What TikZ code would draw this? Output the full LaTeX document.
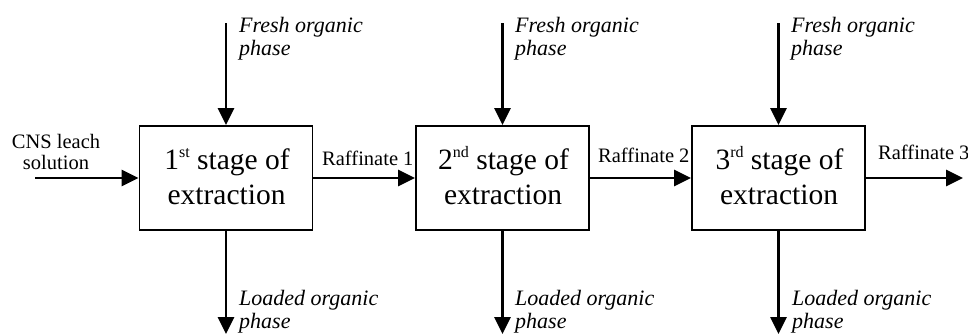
\documentclass[tikz,border=0pt]{standalone}
\usepackage{fontspec}
\setmainfont{Liberation Serif}
\usetikzlibrary{arrows.meta}
\newcommand\supx[1]{\raisebox{12pt}{\fontsize{16}{16}\selectfont #1}}
\tikzset{
  stagebox/.style={draw, line width=1.8pt, minimum width=173pt, minimum height=104pt, inner sep=0pt},
  flowarrow/.style={line width=2.7pt, -{Triangle[length=17pt,width=16pt]}},
  smalltxt/.style={font=\fontsize{20.5}{23}\selectfont, inner sep=0pt},
  smallit/.style={font=\fontsize{22}{23}\selectfont\itshape, inner sep=0pt, anchor=base west},
  boxtxt/.style={font=\fontsize{29.5}{34}\selectfont, inner sep=0pt, anchor=base},
}
\begin{document}
\begin{tikzpicture}[x=1pt,y=-1pt]
\useasboundingbox (0,0) rectangle (968,335);
% boxes
\node[stagebox] (b1) at (226,178) {};
\node[stagebox] (b2) at (502.5,178) {};
\node[stagebox] (b3) at (778.5,178) {};
% box texts
\node[boxtxt] (t1a) at (227,169) {1\supx{st} stage of};
\node[boxtxt] (t1b) at (226.5,204) {extraction};
\node[boxtxt] (t2a) at (503.5,169) {2\supx{nd} stage of};
\node[boxtxt] (t2b) at (503,204) {extraction};
\node[boxtxt] (t3a) at (779.5,169) {3\supx{rd} stage of};
\node[boxtxt] (t3b) at (779,204) {extraction};
% coordinates for free ends
\coordinate (in) at (35,178);
\coordinate (out) at (963,178);
\coordinate (f1) at (226,23);
\coordinate (f2) at (502.5,23);
\coordinate (f3) at (778.5,23);
\coordinate (l1) at (226,334);
\coordinate (l2) at (502.5,334);
\coordinate (l3) at (778.5,334);
% arrows
\draw[flowarrow] (in) -- (b1.west);
\draw[flowarrow] (b1.east) -- (b2.west);
\draw[flowarrow] (b2.east) -- (b3.west);
\draw[flowarrow] (b3.east) -- (out);
\draw[flowarrow] (f1) -- (b1.north);
\draw[flowarrow] (f2) -- (b2.north);
\draw[flowarrow] (f3) -- (b3.north);
\draw[flowarrow] (b1.south) -- (l1);
\draw[flowarrow] (b2.south) -- (l2);
\draw[flowarrow] (b3.south) -- (l3);
% labels
\node[smalltxt, anchor=base] (cns1) at (56,148) {CNS leach};
\node[smalltxt, anchor=base] (cns2) at (56,169) {solution};
\node[smalltxt, anchor=base west] (r1) at (322,165) {Raffinate 1};
\node[smalltxt, anchor=base west] (r2) at (598,162) {Raffinate 2};
\node[smalltxt, anchor=base west] (r3) at (878,159) {Raffinate 3};
\node[smallit] (fa1) at (239,32) {Fresh organic};
\node[smallit] (fb1) at (239,55) {phase};
\node[smallit] (fa2) at (515,32) {Fresh organic};
\node[smallit] (fb2) at (515,55) {phase};
\node[smallit] (fa3) at (791,32) {Fresh organic};
\node[smallit] (fb3) at (791,55) {phase};
\node[smallit] (la1) at (239,305) {Loaded organic};
\node[smallit] (lb1) at (239,328) {phase};
\node[smallit] (la2) at (515,305) {Loaded organic};
\node[smallit] (lb2) at (515,328) {phase};
\node[smallit] (la3) at (792,305) {Loaded organic};
\node[smallit] (lb3) at (792,328) {phase};
\end{tikzpicture}
\end{document}
